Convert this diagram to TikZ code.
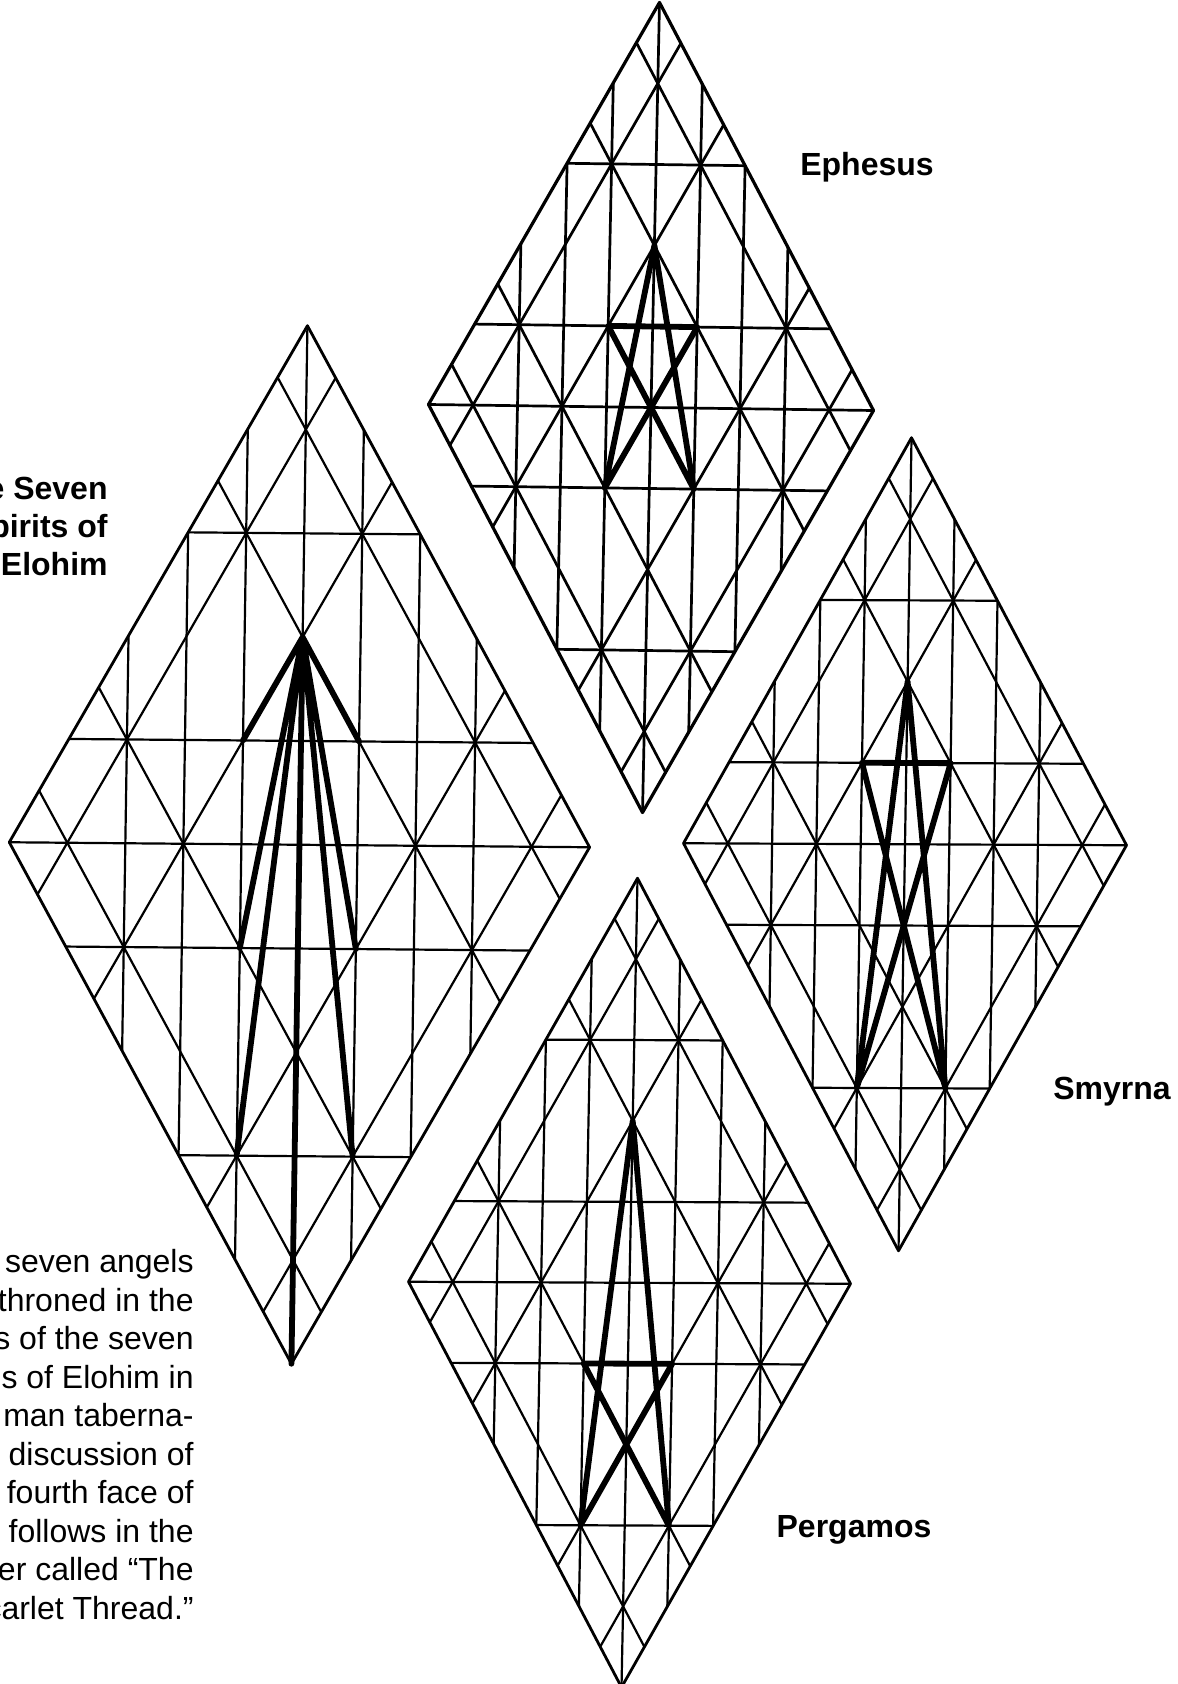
\documentclass[tikz,border=0pt]{standalone}
\usepackage{fontspec}
\setmainfont{Liberation Sans}
\newcommand{\dgrid}[9]{%
  % top x,y  bottom x,y  left x,y  right x,y  heavy path
  \pgfmathsetmacro{\cxx}{(#1+#3+#5+#7)/4}%
  \pgfmathsetmacro{\cyy}{(#2+#4+#6+#8)/4}%
  \pgfmathsetmacro{\hxx}{(#7-#5)/2*0.5}%
  \pgfmathsetmacro{\hyy}{-(#8-#6)/2*0.5}%
  \pgfmathsetmacro{\vxx}{(#1-#3)/2*0.5}%
  \pgfmathsetmacro{\vyy}{-(#2-#4)/2*0.5}%
  \begin{scope}[shift={(\cxx,\cyy)},x={(\hxx pt,\hyy pt)},y={(\vxx pt,\vyy pt)}]
    % horizontals
    \draw[gridline] (-.4,.6)--(.4,.6) (-.8,.2)--(.8,.2) (-1,0)--(1,0) (-.8,-.2)--(.8,-.2) (-.4,-.6)--(.4,-.6);
    % verticals
    \draw[gridline] (0,1)--(0,-1) (-.2,.8)--(-.2,-.8) (.2,.8)--(.2,-.8)
      (-.4,.6)--(-.4,-.6) (.4,.6)--(.4,-.6) (-.6,.4)--(-.6,-.4) (.6,.4)--(.6,-.4);
    % diagonals parallel to the edges
    \foreach \c in {-.8,-.4,.4,.8}{
      \pgfmathsetmacro{\ax}{(\c-1)/2}\pgfmathsetmacro{\ay}{(\c+1)/2}
      \pgfmathsetmacro{\bx}{(\c+1)/2}\pgfmathsetmacro{\by}{(\c-1)/2}
      \draw[gridline] (\ax,\ay)--(\bx,\by);
      \draw[gridline] (-\ax,\ay)--(-\bx,\by);
    }
    \draw[outline] (0,1)--(1,0)--(0,-1)--(-1,0)--cycle;
    \draw[heavy] #9;
  \end{scope}}
\tikzset{
  gridline/.style={line width=1.1pt,line cap=round},
  outline/.style={line width=1.4pt,line join=round},
  heavy/.style={line width=2.9pt,line join=round,line cap=round},
  labelbold/.style={font=\fontsize{16}{19}\selectfont\bfseries,inner sep=0pt},
  bodytext/.style={font=\fontsize{16}{19}\selectfont,inner sep=0pt,anchor=base east}
}
\begin{document}
\begin{tikzpicture}[x=0.5pt,y=-0.5pt]
\useasboundingbox (0,0) rectangle (1177,1684);
\fill[white] (0,0) rectangle (1177,1684);
% Seven Spirits of Elohim
\dgrid{307}{327}{291}{1365}{9.7}{841}{590}{846}{(0,.4)--(-.2,.2) (0,.4)--(.2,.2) (0,.4)--(-.2,-.2) (0,.4)--(.2,-.2) (0,.4)--(-.2,-.6) (0,.4)--(.2,-.6) (0,.4)--(0,-1)}
% Ephesus
\tikzset{gridline/.append style={line width=1.35pt},outline/.append style={line width=1.6pt}}
\dgrid{658}{5}{641}{815}{430}{402}{875}{408}{(0,.4)--(-.2,-.2)--(.2,.2)--(-.2,.2)--(.2,-.2)--cycle}
\tikzset{gridline/.append style={line width=1.1pt},outline/.append style={line width=1.4pt}}
% Smyrna
\dgrid{910}{436}{897}{1249}{685}{845}{1128}{847}{(0,.4)--(-.2,-.6)--(.2,.2)--(-.2,.2)--(.2,-.6)--cycle}
% Pergamos
\dgrid{636}{875}{620}{1684}{410}{1285}{852}{1287}{(0,.4)--(-.2,-.6)--(.2,-.2)--(-.2,-.2)--(.2,-.6)--cycle}
% labels
\node[labelbold,anchor=base] (eph) at (867,176) {Ephesus};
\node[labelbold,anchor=base] (smy) at (1112,1099) {Smyrna};
\node[labelbold,anchor=base] (per) at (854,1537) {Pergamos};
\node[labelbold,anchor=base east] (s1) at (108,499) {e Seven};
\node[labelbold,anchor=base east] (s2) at (108,537) {pirits of};
\node[labelbold,anchor=base east] (s3) at (108,575) {Elohim};
\node[bodytext] (t1) at (194,1272) {seven angels};
\node[bodytext] (t2) at (194,1311) {throned in the};
\node[bodytext] (t3) at (194,1349) {s of the seven};
\node[bodytext] (t4) at (194,1388) {s of Elohim in};
\node[bodytext] (t5) at (194,1426) {man taberna-};
\node[bodytext] (t6) at (194,1465) {discussion of};
\node[bodytext] (t7) at (194,1503) {fourth face of};
\node[bodytext] (t8) at (194,1542) {follows in the};
\node[bodytext] (t9) at (194,1580) {er called “The};
\node[bodytext] (t10) at (194,1619) {carlet Thread.”};
\end{tikzpicture}
\end{document}
